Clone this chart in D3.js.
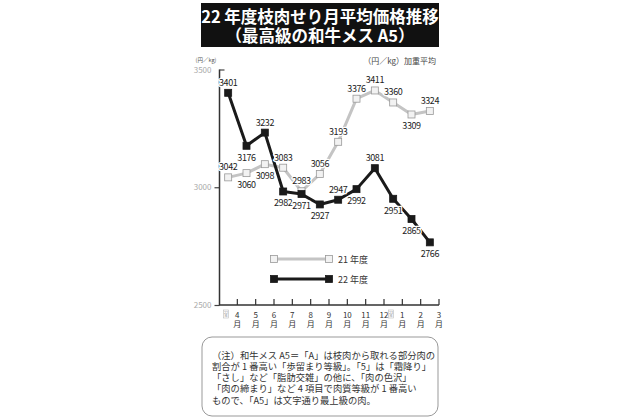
<!DOCTYPE html>
<html>
<head>
<meta charset="utf-8">
<script src="https://cdn.jsdelivr.net/npm/d3@7"></script>
<style>
  body { margin: 0; background: #fff; }
  svg { font-family: "Noto Sans CJK JP", "Noto Sans", sans-serif; }
  .val { font-size: 9px; fill: #222; stroke: #fff; stroke-width: 2.5px; paint-order: stroke; letter-spacing: -0.4px; }
</style>
</head>
<body>
<div id="chart"></div>
<script>
var months = ["4", "5", "6", "7", "8", "9", "10", "11", "12", "1", "2", "3"];
var fy21 = [3042, 3060, 3098, 3083, 2983, 3056, 3193, 3376, 3411, 3360, 3309, 3324];
var fy22 = [3401, 3176, 3232, 2982, 2971, 2927, 2947, 2992, 3081, 2951, 2865, 2766];
// where each value label goes: t = above, b = below
var fy21Pos = ["t", "b", "b", "t", "t", "t", "t", "t", "t", "t", "b", "t"];
var fy22Pos = ["t", "b", "t", "b", "b", "b", "t", "b", "t", "b", "b", "b"];
var yTicks = [2500, 3000, 3500];
var yearMarks = [["22", "4"], ["23", "1"]];
var noteLines = [
  "（注）和牛メス A5＝「A」は枝肉から取れる部分肉の",
  "割合が 1 番高い「歩留まり等級」。「5」は「霜降り」",
  "「さし」など「脂肪交雑」の他に、「肉の色沢」",
  "「肉の締まり」など 4 項目で肉質等級が 1 番高い",
  "もので、「A5」は文字通り最上級の肉。"
];

var W = 640, H = 420;
var svg = d3.select("#chart").append("svg")
  .attr("width", W).attr("height", H);

// title block
svg.append("rect")
  .attr("x", 201).attr("y", 3).attr("width", 238).attr("height", 44)
  .attr("fill", "#111");
svg.append("text")
  .attr("x", 320).attr("y", 23)
  .attr("text-anchor", "middle").attr("fill", "#fff")
  .style("font-size", "16.5px").style("font-weight", "bold")
  .text("22 年度枝肉せり月平均価格推移");
svg.append("text")
  .attr("x", 320).attr("y", 42)
  .attr("text-anchor", "middle").attr("fill", "#fff")
  .style("font-size", "16.5px").style("font-weight", "bold")
  .text("（最高級の和牛メス A5）");

var x = d3.scaleBand()
  .domain(months)
  .range([219, 439]);
var y = d3.scaleLinear()
  .domain([2500, 3500])
  .range([305, 69.5]);

function cx(i) { return x(months[i]) + x.bandwidth() / 2; }

// y axis
var yAxis = d3.axisLeft(y).tickValues(yTicks).tickFormat(d3.format("d"))
  .tickSize(5).tickSizeOuter(0).tickPadding(3);
var gy = svg.append("g")
  .attr("transform", "translate(219.5,0)")
  .call(yAxis);
gy.select(".domain").remove();
gy.selectAll("line").attr("stroke", "#444").attr("stroke-width", 1.2);
gy.selectAll("text").attr("fill", "#aaa").style("font-size", "8px").style("font-family", "Noto Sans CJK JP");
gy.selectAll(".tick").filter(function (d) { return d === 3500; }).select("line")
  .attr("x2", 5);

// axis lines
svg.append("path")
  .attr("d", "M219.5," + y(3500) + "V" + y(2500) + "H" + (x(months[11]) + x.bandwidth()))
  .attr("fill", "none").attr("stroke", "#333").attr("stroke-width", 1.5);

// x ticks at month ends
var gx = svg.append("g");
var tk = gx.selectAll("g").data(months).enter().append("g")
  .attr("transform", function (d) { return "translate(" + (x(d) + x.bandwidth()) + "," + y(2500) + ")"; });
tk.append("line").attr("y1", 0).attr("y2", -6).attr("stroke", "#333").attr("stroke-width", 1.2);
tk.append("text").attr("y", 13).attr("text-anchor", "middle")
  .style("font-size", "8px").attr("fill", "#333").text(function (d) { return d; });
tk.append("text").attr("y", 22).attr("text-anchor", "middle")
  .style("font-size", "8px").attr("fill", "#333").text("月");

// year markers
yearMarks.forEach(function (m) {
  var mx = x(m[1]) + 7;
  var g = svg.append("g").attr("transform", "translate(" + mx + "," + (y(2500) + 5) + ")");
  g.append("rect").attr("x", -2.5).attr("y", 0).attr("width", 5).attr("height", 8)
    .attr("fill", "#fff").attr("stroke", "#bbb").attr("stroke-width", 0.6);
  g.append("text").attr("y", 3.6).attr("text-anchor", "middle")
    .style("font-size", "3.6px").attr("fill", "#888").text(m[0]);
  g.append("text").attr("y", 7.3).attr("text-anchor", "middle")
    .style("font-size", "3.6px").attr("fill", "#888").text("年");
});

// unit labels
svg.append("text").attr("x", 206).attr("y", 62).attr("text-anchor", "middle")
  .style("font-size", "5.5px").attr("fill", "#555").text("(円／kg)");
svg.append("text").attr("x", 436).attr("y", 64).attr("text-anchor", "end")
  .style("font-size", "8px").attr("fill", "#444").text("（円／kg）加重平均");

var line = d3.line()
  .x(function (d, i) { return cx(i); })
  .y(function (d) { return y(d); });

function drawSeries(vals, stroke, fill, mstroke) {
  svg.append("path")
    .attr("d", line(vals))
    .attr("fill", "none").attr("stroke", stroke).attr("stroke-width", 3)
    .attr("stroke-linejoin", "round");
  svg.append("g").selectAll("rect").data(vals).enter().append("rect")
    .attr("x", function (d, i) { return cx(i) - 3.5; })
    .attr("y", function (d) { return y(d) - 3.5; })
    .attr("width", 7).attr("height", 7)
    .attr("fill", fill).attr("stroke", mstroke).attr("stroke-width", 0.8);
}
function drawLabels(vals, pos) {
  svg.append("g").selectAll("text").data(vals).enter().append("text")
    .attr("class", "val")
    .attr("x", function (d, i) { return cx(i); })
    .attr("y", function (d, i) { return y(d) + (pos[i] === "t" ? -7 : 15); })
    .attr("text-anchor", "middle")
    .text(function (d) { return d; });
}

drawSeries(fy21, "#c4c4c4", "#f2f2f2", "#999");
drawSeries(fy22, "#1a1a1a", "#1a1a1a", "#1a1a1a");
drawLabels(fy21, fy21Pos);
drawLabels(fy22, fy22Pos);

// legend
var legend = [["21 年度", "#c4c4c4", "#f2f2f2", "#999"], ["22 年度", "#1a1a1a", "#1a1a1a", "#1a1a1a"]];
legend.forEach(function (l, i) {
  var ly = 259 + i * 20;
  svg.append("line").attr("x1", 274).attr("x2", 329).attr("y1", ly).attr("y2", ly)
    .attr("stroke", l[1]).attr("stroke-width", 3);
  [274, 329].forEach(function (lx) {
    svg.append("rect").attr("x", lx - 3.5).attr("y", ly - 3.5).attr("width", 7).attr("height", 7)
      .attr("fill", l[2]).attr("stroke", l[3]).attr("stroke-width", 0.8);
  });
  svg.append("text").attr("x", 338).attr("y", ly + 3.5)
    .style("font-size", "9px").attr("fill", "#333").text(l[0]);
});

// note box
svg.append("rect")
  .attr("x", 202).attr("y", 337).attr("width", 236).attr("height", 79)
  .attr("rx", 10).attr("ry", 10)
  .attr("fill", "#fff").attr("stroke", "#999").attr("stroke-width", 1);
svg.append("g").selectAll("text").data(noteLines).enter().append("text")
  .attr("x", 212)
  .attr("y", function (d, i) { return 358.5 + i * 11.3; })
  .style("font-size", "9.3px").attr("fill", "#333")
  .text(function (d) { return d; });
</script>
</body>
</html>
